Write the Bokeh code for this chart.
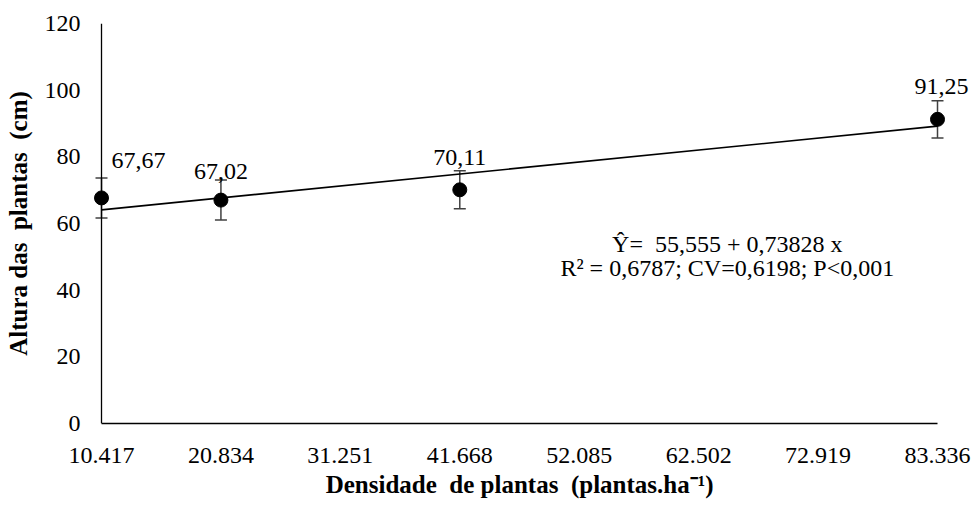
from bokeh.plotting import figure
from bokeh.models import Range1d, FixedTicker, ColumnDataSource, Whisker, TeeHead, Label
from bokeh.core.properties import value
from bokeh.embed import file_html
from bokeh.resources import INLINE

# Plant density classes shown on the x axis (plants per hectare, thousands separator '.')
density_labels = ["10.417", "20.834", "31.251", "41.668", "52.085", "62.502", "72.919", "83.336"]

# Observed means of plant height (cm) with their error bar half-widths
obs_density = ["10.417", "20.834", "41.668", "83.336"]
obs_height = [67.67, 67.02, 70.11, 91.25]
obs_error = [6.0, 6.0, 5.7, 5.6]
obs_text = ["67,67", "67,02", "70,11", "91,25"]

# Fitted linear trend, evaluated at the ends of the density range
fit_density = ["10.417", "83.336"]
fit_height = [64.1, 89.2]

equation_lines = ["Ŷ=\u00a0 55,555 + 0,73828 x", "R² = 0,6787; CV=0,6198; P<0,001"]

y_ticks = [0, 20, 40, 60, 80, 100, 120]
y_max = 120

FONT = "'Liberation Serif', 'Times New Roman', serif"
FS = "24px"
FS_TITLE = "25px"

pos = {lab: i for i, lab in enumerate(density_labels)}
obs_x = [pos[d] for d in obs_density]
fit_x = [pos[d] for d in fit_density]
n = len(density_labels) - 1

# the frame is padded beyond the first and last class so that edge markers
# and labels are not cut; the visible axis lines are limited to the data span
pad_left = 0.1675
pad_right = 0.3265
p = figure(width=976, height=506, output_backend="svg", toolbar_location=None,
           x_range=Range1d(-pad_left, n + pad_right), y_range=Range1d(0, y_max),
           min_border_left=81, min_border_right=0, min_border_top=23, min_border_bottom=83)
p.outline_line_color = None
p.xgrid.visible = False
p.ygrid.visible = False
p.background_fill_color = "white"
p.border_fill_color = "white"

# axes
p.xaxis.ticker = FixedTicker(ticks=list(range(len(density_labels))))
p.xaxis.major_label_overrides = {i: lab for i, lab in enumerate(density_labels)}
p.xaxis.bounds = (0, n)
p.yaxis.ticker = FixedTicker(ticks=y_ticks)
for ax in (p.xaxis, p.yaxis):
    ax.axis_line_color = "black"
    ax.axis_line_width = 1.3
    ax.major_tick_line_color = None
    ax.minor_tick_line_color = None
    ax.major_tick_out = 0
    ax.major_tick_in = 0
    ax.minor_tick_out = 0
    ax.minor_tick_in = 0
    ax.major_label_text_font = FONT
    ax.major_label_text_font_size = FS
    ax.major_label_text_color = "black"
    ax.axis_label_text_font = FONT
    ax.axis_label_text_font_style = "bold"
    ax.axis_label_text_font_size = FS_TITLE
    ax.axis_label_text_color = "black"
p.yaxis.axis_line_color = None
p.xaxis.major_label_standoff = 24
p.yaxis.major_label_standoff = 1
# trailing non-breaking spaces keep the title centred under the axis span
p.xaxis.axis_label = "Densidade\u00a0 de\u00a0plantas\u00a0 (plantas.ha\u207b\u00b9)" + "\u00a0" * 3
p.yaxis.axis_label = "Altura\u00a0das\u00a0 plantas\u00a0 (cm)"
p.xaxis.axis_label_standoff = 5
p.yaxis.axis_label_standoff = 10

# vertical axis line drawn at the first density class
p.segment(x0=[0], y0=[0], x1=[0], y1=[y_max], line_color="black", line_width=1.3)

# fitted line
p.line(fit_x, fit_height, line_color="black", line_width=1.6)

# error bars
src = ColumnDataSource(dict(
    x=obs_x,
    y=obs_height,
    lo=[h - e for h, e in zip(obs_height, obs_error)],
    hi=[h + e for h, e in zip(obs_height, obs_error)],
))
head = dict(size=12, line_color="#404040", line_width=1.5)
wh = Whisker(source=src, base="x", lower="lo", upper="hi", dimension="height",
             line_color="#404040", line_width=1.5,
             upper_head=TeeHead(**head), lower_head=TeeHead(**head))
p.add_layout(wh)

# mean markers
p.scatter("x", "y", source=src, size=14, fill_color="black", line_color="black")

# value labels above each mean
label_dx = [37, 0, 0, 4]
label_dy = [37, 29, 32, 33]
for x, y, t, dx, dy in zip(obs_x, obs_height, obs_text, label_dx, label_dy):
    p.add_layout(Label(x=x, y=y, text=t, x_offset=dx, y_offset=dy,
                       text_align="center", text_baseline="middle",
                       text_font=FONT, text_font_size=FS, text_color="black"))

# regression equation
eq_x = 5.24
p.text([eq_x, eq_x], [54.0, 46.8], text=equation_lines,
       text_align="center", text_baseline="middle",
       text_font=value(FONT), text_font_size=FS, text_color="black")

open("out.html", "w").write(file_html(p, INLINE))
